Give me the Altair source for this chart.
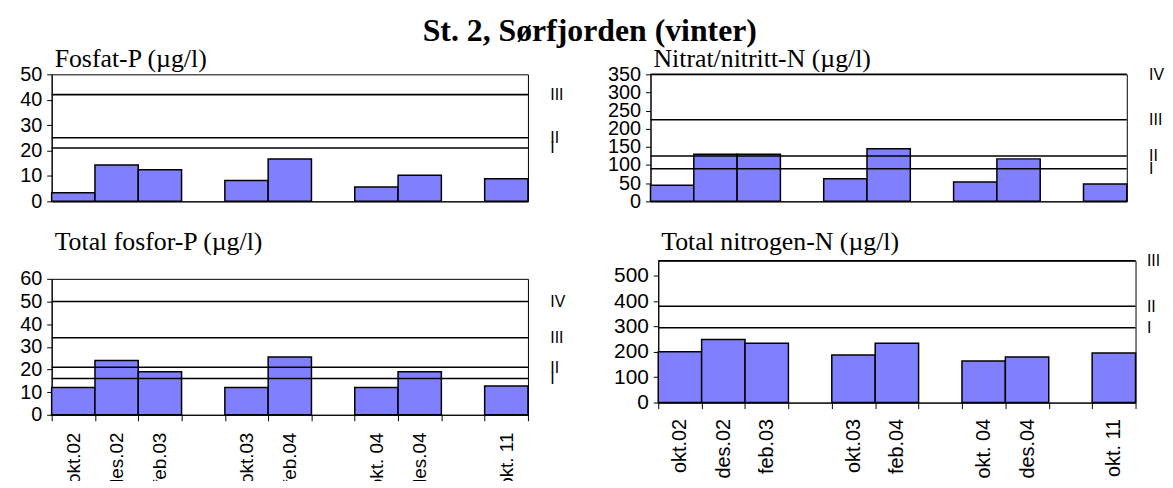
import altair as alt
import pandas as pd

categories = ["okt.02", "des.02", "feb.03", "gap1", "okt.03", "feb.04", "gap2",
              "okt. 04", "des.04", "gap3", "okt. 11"]

fosfat = [3.4, 14.3, 12.4, None, 8.2, 16.7, None, 5.6, 10.3, None, 8.9]
nitrat = [44, 130, 130, None, 62, 145, None, 53, 117, None, 48]
tot_p = [12, 24, 19, None, 12, 25.5, None, 12, 19, None, 12.7]
tot_n = [201, 249, 234, None, 188, 234, None, 164, 180, None, 196]

fosfat_limits = [21, 25, 42]
fosfat_classes = ["I", "II", "III"]
nitrat_limits = [90, 125, 225, 350]
nitrat_classes = ["I", "II", "III", "IV"]
tot_p_limits = [16, 21, 34, 50]
tot_p_classes = ["I", "II", "III", "IV"]
tot_n_limits = [295, 380, 560]
tot_n_classes = ["I", "II", "III"]

fosfat_ticks = [0, 10, 20, 30, 40, 50]
nitrat_ticks = [0, 50, 100, 150, 200, 250, 300, 350]
tot_p_ticks = [0, 10, 20, 30, 40, 50, 60]
tot_n_ticks = [0, 100, 200, 300, 400, 500]

SANS = "Liberation Sans"
SERIF = "Liberation Serif"
BAR = "#8080ff"


def panel(title, values, limits, classes, ticks, ymax, w, h, show_x,
          left_ext, ylab, xlab, t_offset, x_pad=11.5, right_ext=44, r_pad=22):
    df = pd.DataFrame({"cat": categories, "value": values})
    lim_df = pd.DataFrame({"lim": limits, "cls": classes})
    yscale = alt.Scale(domain=[0, ymax], nice=False, zero=True)
    xscale = alt.Scale(domain=categories, paddingInner=0, paddingOuter=0)
    if show_x:
        xaxis = alt.Axis(title=None, labelAngle=270, tickBand="extent",
                         labelExpr="indexof(datum.label, 'gap') == 0 ? '' : datum.label",
                         tickSize=6, tickColor="black", domainColor="black",
                         labelFont=SANS, labelFontSize=xlab, labelColor="black",
                         labelPadding=x_pad, labelOverlap=False)
    else:
        xaxis = alt.Axis(title=None, labels=False, ticks=False,
                         domainColor="black")
    bars = alt.Chart(df).mark_bar(fill=BAR, stroke="black", strokeWidth=1.5).encode(
        x=alt.X("cat:N", sort=categories, scale=xscale, axis=xaxis),
        y=alt.Y("value:Q", scale=yscale,
                axis=alt.Axis(title=None, values=ticks, grid=False, tickSize=5,
                              tickColor="black", domainColor="black",
                              labelFont=SANS, labelFontSize=ylab,
                              labelColor="black", labelPadding=5,
                              minExtent=left_ext, maxExtent=left_ext,
                              labelOverlap=False)),
    )
    expr = " : ".join(
        f"datum.value == {v} ? '{c}'" for v, c in zip(limits, classes)) + " : ''"
    rules = alt.Chart(lim_df).mark_rule(color="black", strokeWidth=1.6).encode(
        y=alt.Y("lim:Q", scale=yscale,
                axis=alt.Axis(title=None, orient="right", values=limits,
                              labelExpr=expr, ticks=False, tickSize=0,
                              domain=False, grid=False, labelFont=SANS,
                              labelFontSize=16, labelColor="black",
                              labelPadding=r_pad, labelOverlap=False,
                              minExtent=right_ext, maxExtent=right_ext)),
    )
    return alt.layer(bars, rules).resolve_axis(y="independent").properties(
        width=w, height=h,
        title=alt.TitleParams(title, anchor="start", frame="group", font=SERIF,
                              fontSize=26, fontWeight="normal", color="black",
                              offset=t_offset, dx=3),
    )


p1 = panel("Fosfat-P (µg/l)", fosfat, fosfat_limits, fosfat_classes,
           fosfat_ticks, 50, 480, 128, False, 43, 20, 19, -7.6)
p3 = panel("Total fosfor-P (µg/l)", tot_p, tot_p_limits, tot_p_classes,
           tot_p_ticks, 60, 480, 137, True, 43, 20, 19, 14.2)
p2 = panel("Nitrat/nitritt-N (µg/l)", nitrat, nitrat_limits, nitrat_classes,
           nitrat_ticks, 350, 480, 128, False, 52, 20, 19, -7.6, right_ext=36)
p4 = panel("Total nitrogen-N (µg/l)", tot_n, tot_n_limits, tot_n_classes,
           tot_n_ticks, 560, 481, 143, True, 52, 21, 20, -2.5, x_pad=10,
           right_ext=24.3, r_pad=11)

spacer = alt.Chart(pd.DataFrame({"v": [0]})).mark_point(opacity=0).encode(
    x=alt.value(0), y=alt.value(0)
).properties(width=1, height=1, view=alt.ViewBackground(stroke="transparent"))

p4_shifted = alt.hconcat(spacer, p4, spacing=-49.2)

left = alt.vconcat(p1, p3, spacing=16.1)
right = alt.vconcat(p2, p4_shifted, spacing=16.8)

chart = alt.hconcat(left, right, spacing=25.5).properties(
    padding={"left": 0, "top": 5, "right": 0, "bottom": -11},
    title=alt.TitleParams("St. 2, Sørfjorden (vinter)", font=SERIF, fontSize=32,
                          fontWeight="bold", color="black", anchor="middle",
                          offset=-1.9, dx=3.5),
).configure_view(stroke="black", strokeWidth=1)

chart.save("out.html", embed_options={"renderer": "svg", "actions": False})
